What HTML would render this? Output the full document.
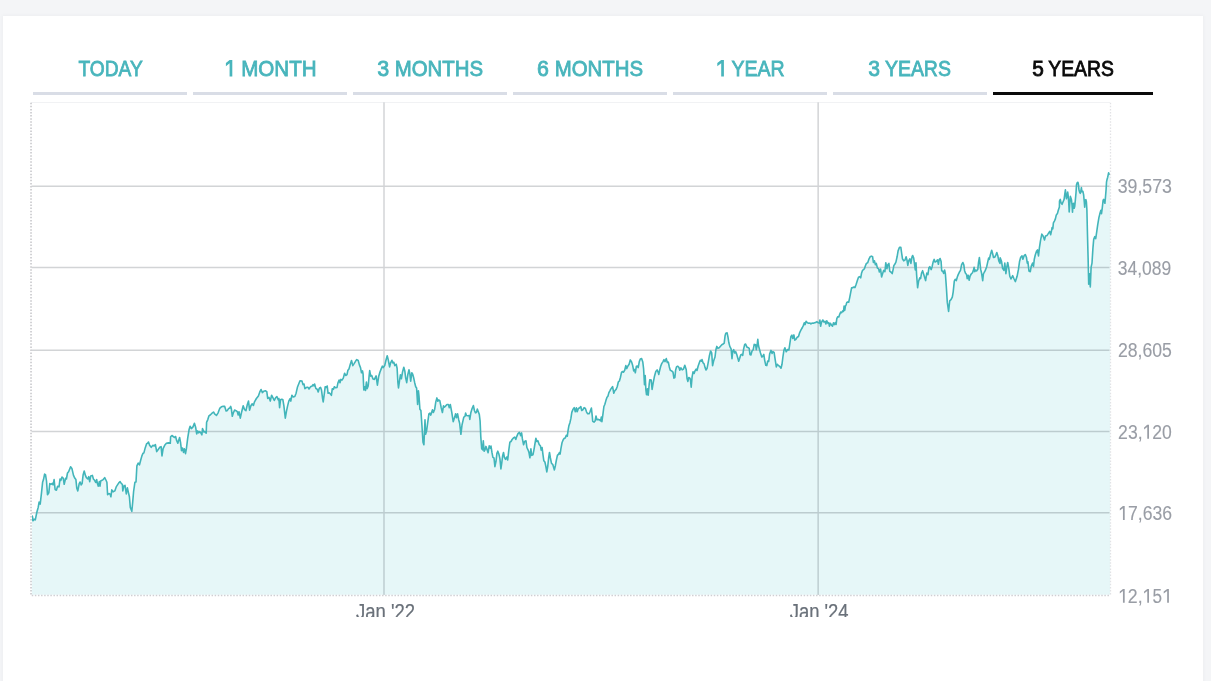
<!DOCTYPE html>
<html><head><meta charset="utf-8"><title>Chart</title>
<style>
html,body{margin:0;padding:0;}
body{width:1211px;height:681px;overflow:hidden;background:#f4f5f7;font-family:"Liberation Sans",sans-serif;position:relative;}
.card{position:absolute;left:3px;top:16px;width:1200px;height:700px;background:#fff;box-shadow:0 0 3px rgba(200,204,212,.25);}
svg{position:absolute;left:0;top:0;will-change:transform;}
svg text{font-family:"Liberation Sans",sans-serif;white-space:pre;}
</style></head><body>
<div class="card"></div>
<svg width="1211" height="681" viewBox="0 0 1211 681">
<defs><clipPath id="xc"><rect x="300" y="596" width="700" height="21"/></clipPath><clipPath id="ac"><rect x="31.9" y="100" width="1078.3" height="494.8"/></clipPath><clipPath id="lc"><rect x="31.9" y="100" width="1078.1" height="500"/></clipPath></defs>
<rect x="33" y="92" width="154" height="3" fill="#d9dde6"/><rect x="193" y="92" width="154" height="3" fill="#d9dde6"/><rect x="353" y="92" width="154" height="3" fill="#d9dde6"/><rect x="513" y="92" width="154" height="3" fill="#d9dde6"/><rect x="673" y="92" width="154" height="3" fill="#d9dde6"/><rect x="833" y="92" width="154" height="3" fill="#d9dde6"/><rect x="993" y="92" width="160" height="3" fill="#0a0a0a"/>
<line x1="31" y1="102.5" x2="1110" y2="102.5" stroke="#f1f2f4" stroke-width="1.2"/>
<path d="M30.9 524.6 L32.3 516.0 L33.2 520.6 L34.2 519.3 L35.3 519.9 L36.9 512.0 L38.2 507.4 L39.1 502.1 L40.2 504.1 L41.5 492.8 L42.6 482.3 L43.5 479.6 L44.6 474.1 L45.5 474.6 L46.5 481.0 L47.5 494.8 L48.8 492.8 L49.8 483.6 L51.0 484.3 L52.3 483.3 L53.1 484.9 L54.1 479.6 L55.1 489.5 L56.4 490.2 L57.6 486.2 L59.0 486.9 L60.0 479.0 L60.9 480.3 L62.0 477.0 L63.3 478.3 L64.2 484.3 L65.6 478.3 L66.4 479.0 L67.5 473.0 L68.6 471.7 L70.6 466.8 L71.9 468.4 L73.5 475.4 L74.9 478.3 L75.9 479.6 L76.8 488.2 L77.8 490.9 L79.2 483.6 L80.1 482.0 L81.2 484.9 L82.1 483.6 L83.1 475.0 L84.2 471.0 L85.5 475.7 L86.4 477.7 L87.8 479.0 L88.7 476.7 L89.7 481.6 L90.7 475.9 L92.4 475.4 L93.4 479.0 L94.6 480.3 L95.7 482.5 L96.7 479.6 L97.4 483.6 L98.3 486.2 L99.3 481.6 L100.0 486.2 L100.7 481.0 L102.0 480.3 L103.2 479.6 L104.7 477.7 L105.9 480.0 L106.9 482.3 L107.6 494.8 L108.9 493.5 L110.2 494.2 L110.9 496.8 L111.8 489.9 L113.1 491.8 L114.8 490.9 L116.2 486.9 L117.5 484.9 L118.8 482.9 L120.1 481.6 L121.4 483.6 L122.4 484.3 L122.8 490.9 L123.8 486.2 L125.0 485.3 L126.3 493.9 L127.4 487.8 L128.5 492.8 L129.4 496.8 L130.3 507.4 L131.8 511.3 L132.7 502.1 L133.6 491.5 L134.9 482.3 L136.0 482.0 L136.9 465.8 L138.2 463.1 L139.5 464.8 L140.6 460.5 L141.9 455.9 L143.0 453.2 L143.9 452.9 L145.2 447.9 L146.6 443.7 L147.6 443.3 L148.5 442.0 L149.6 445.3 L151.2 447.3 L152.9 445.3 L154.2 445.9 L155.4 444.6 L156.7 451.6 L158.4 449.2 L159.8 447.3 L161.1 446.6 L162.0 455.9 L163.1 448.6 L164.7 445.3 L166.4 443.3 L168.4 442.9 L170.3 443.3 L170.6 436.8 L171.9 435.5 L173.2 436.5 L174.3 437.5 L175.6 436.5 L176.5 440.1 L177.8 443.2 L179.6 437.5 L180.5 442.1 L181.5 450.7 L182.5 448.0 L183.5 452.4 L184.4 448.7 L185.5 453.7 L186.4 448.7 L187.7 438.1 L189.1 429.5 L190.1 426.2 L191.4 428.6 L193.0 426.9 L194.4 423.3 L195.7 427.6 L196.7 433.9 L197.7 430.9 L198.7 432.8 L199.6 431.5 L200.7 432.6 L201.9 434.8 L202.5 428.6 L203.9 431.9 L204.9 431.5 L206.2 433.2 L206.6 422.3 L207.8 419.6 L208.9 415.9 L210.2 415.0 L211.5 413.7 L213.5 412.0 L214.8 414.1 L216.5 415.4 L218.1 412.8 L219.7 408.4 L221.4 406.8 L223.2 406.2 L224.7 406.4 L226.1 411.0 L227.4 410.4 L228.7 408.4 L229.8 408.0 L230.7 406.4 L231.3 408.4 L232.3 416.3 L233.3 413.0 L234.6 410.1 L236.0 410.7 L237.3 411.7 L238.2 415.0 L239.0 411.7 L240.3 418.1 L241.7 411.7 L243.2 405.8 L244.6 409.7 L245.9 410.7 L247.2 405.1 L248.5 401.1 L249.6 410.1 L250.9 405.8 L252.2 403.8 L253.4 405.4 L254.5 401.8 L256.4 398.5 L258.4 395.9 L259.8 391.9 L261.1 389.5 L262.4 392.6 L263.7 391.2 L265.4 390.8 L266.8 391.6 L267.7 398.5 L269.0 397.4 L270.3 401.1 L271.6 395.2 L273.0 397.8 L274.3 400.5 L275.6 397.8 L276.9 396.5 L278.2 399.8 L278.9 398.5 L279.6 407.7 L280.5 399.8 L281.8 399.2 L282.9 399.8 L283.9 405.8 L285.3 418.1 L286.4 411.7 L287.5 406.4 L288.8 401.1 L290.1 398.5 L290.8 401.1 L291.9 395.2 L293.2 396.9 L294.8 396.5 L296.1 393.2 L297.4 387.3 L298.7 384.0 L300.0 380.7 L302.0 381.1 L303.0 384.6 L304.0 384.0 L304.9 388.6 L306.7 387.3 L308.0 387.3 L309.0 389.0 L310.6 386.6 L311.9 386.3 L313.0 384.6 L313.9 385.9 L314.6 384.0 L315.9 388.6 L317.2 389.2 L318.2 391.9 L319.2 388.6 L319.5 388.0 L320.6 387.4 L321.5 390.0 L322.6 398.6 L323.2 401.9 L324.2 394.6 L325.2 386.7 L326.1 387.4 L327.2 386.0 L328.1 393.3 L329.2 392.7 L330.4 394.0 L331.4 395.3 L332.3 388.7 L333.4 389.4 L334.3 386.7 L335.7 387.8 L337.0 387.4 L338.0 382.7 L339.1 380.1 L340.0 382.7 L340.9 379.4 L342.0 380.1 L343.3 378.1 L344.6 373.2 L345.7 375.5 L347.0 374.6 L347.9 370.2 L349.0 368.9 L350.3 364.2 L351.5 360.5 L352.8 365.6 L354.1 363.6 L355.5 361.3 L356.8 359.6 L358.2 360.5 L359.4 364.9 L360.5 367.6 L361.5 372.8 L362.5 370.9 L363.1 374.2 L363.8 390.0 L364.7 386.7 L365.5 390.4 L366.4 382.1 L367.1 388.7 L368.2 386.0 L369.1 376.1 L369.7 370.6 L370.7 376.1 L371.7 375.5 L373.0 379.0 L374.4 379.4 L376.1 375.9 L376.7 380.1 L377.4 385.1 L378.6 376.8 L379.9 372.2 L381.2 368.9 L382.3 366.2 L383.2 367.6 L384.7 365.6 L385.9 360.5 L387.2 355.7 L388.2 359.6 L389.6 366.9 L390.6 362.9 L391.9 360.3 L392.9 362.9 L393.8 362.3 L394.8 365.6 L396.2 364.2 L397.1 368.2 L397.9 382.7 L398.5 388.0 L399.5 380.8 L400.4 374.8 L401.4 378.8 L402.5 372.2 L403.8 367.2 L404.8 370.9 L405.7 378.1 L406.7 382.7 L407.8 374.8 L409.0 369.8 L409.8 373.5 L410.7 381.2 L411.8 372.8 L412.7 374.2 L413.6 377.5 L414.7 382.7 L415.7 386.7 L416.6 388.0 L417.6 404.5 L418.4 390.7 L419.0 396.0 L419.9 409.2 L420.9 410.5 L421.9 425.0 L423.0 442.2 L423.9 444.8 L424.6 429.0 L425.0 419.7 L425.6 434.3 L426.6 431.0 L427.9 421.1 L428.9 413.8 L429.9 413.1 L430.8 415.1 L432.5 409.8 L433.4 412.5 L434.7 409.2 L435.8 401.9 L436.9 397.9 L437.8 401.2 L438.7 399.9 L439.8 400.6 L441.1 407.2 L442.4 412.5 L443.5 405.9 L444.4 407.2 L445.7 405.9 L447.0 404.5 L448.4 404.5 L449.3 407.8 L450.3 404.5 L451.7 411.8 L453.2 421.7 L454.7 417.1 L455.6 413.8 L456.5 417.8 L457.6 413.8 L458.7 419.7 L459.6 423.0 L460.9 434.3 L462.0 425.0 L462.9 421.1 L463.8 417.1 L465.0 416.4 L465.6 413.1 L466.5 415.5 L467.8 415.7 L469.2 415.5 L469.8 419.4 L470.9 412.4 L472.1 408.5 L473.4 405.6 L474.4 410.5 L475.5 412.8 L476.4 412.4 L477.3 409.1 L478.4 412.0 L479.3 414.4 L480.1 421.0 L480.8 436.9 L481.7 448.8 L482.6 449.8 L483.3 440.8 L484.1 451.2 L485.0 449.8 L485.9 446.4 L487.0 449.4 L488.1 452.7 L489.2 445.9 L490.3 448.1 L491.0 446.1 L492.0 452.7 L492.9 457.4 L494.0 458.0 L494.9 466.6 L496.0 461.3 L496.9 453.4 L497.8 451.2 L498.9 454.1 L499.9 458.7 L500.9 468.9 L501.8 462.6 L502.6 456.0 L503.5 452.5 L504.4 457.4 L505.5 459.3 L506.8 457.0 L507.7 460.0 L508.8 450.1 L509.9 442.2 L511.0 441.5 L512.1 439.5 L513.4 437.9 L514.7 437.1 L515.8 439.5 L516.7 436.6 L518.0 433.6 L519.4 432.3 L520.7 435.6 L521.6 432.9 L522.4 438.9 L523.6 444.8 L524.6 441.5 L526.0 440.8 L526.9 447.5 L528.0 449.8 L528.9 452.1 L529.9 457.8 L530.9 448.8 L531.7 455.4 L533.0 454.7 L533.9 450.1 L535.0 443.5 L535.9 438.2 L536.9 441.5 L537.9 440.8 L539.2 444.5 L540.5 446.1 L541.2 450.1 L542.1 447.5 L542.9 454.1 L543.8 460.7 L544.9 462.0 L545.8 466.0 L546.8 471.9 L547.8 466.0 L548.7 457.4 L549.5 452.5 L550.4 458.0 L551.5 463.3 L552.8 464.6 L554.4 469.9 L555.3 466.0 L556.4 460.0 L557.4 455.4 L558.6 454.1 L559.4 452.5 L560.1 454.1 L561.0 448.1 L562.0 442.8 L563.2 439.8 L564.3 438.2 L565.3 437.9 L566.3 435.3 L567.3 436.2 L568.0 430.9 L568.9 425.7 L570.0 422.4 L570.9 418.4 L571.8 412.4 L573.1 409.1 L574.2 407.6 L575.3 411.8 L576.4 407.8 L577.2 411.8 L578.4 408.5 L579.7 407.8 L580.8 406.5 L581.7 410.5 L582.8 409.8 L584.1 407.6 L585.4 408.5 L586.5 411.8 L587.7 413.8 L589.0 413.8 L590.0 411.8 L591.4 408.1 L592.3 416.4 L592.7 421.3 L594.0 422.1 L595.1 421.0 L596.0 416.0 L596.9 419.7 L598.0 419.4 L599.3 419.7 L600.6 420.8 L601.3 417.1 L601.9 421.7 L602.9 414.4 L603.9 406.5 L604.8 404.5 L605.9 400.6 L607.0 397.2 L607.9 396.2 L608.9 392.6 L610.0 390.6 L610.6 389.4 L611.8 387.6 L612.6 386.7 L613.8 393.3 L614.8 390.7 L616.1 389.4 L617.2 386.7 L618.4 381.8 L619.4 381.0 L620.4 377.5 L621.4 372.8 L622.3 371.5 L623.4 372.2 L624.7 370.2 L625.8 365.6 L626.7 368.6 L627.8 366.2 L629.1 364.3 L630.3 359.9 L631.6 362.0 L632.7 365.6 L633.7 370.9 L634.6 369.5 L635.3 372.8 L636.4 366.2 L637.3 366.0 L638.2 367.6 L639.3 361.6 L640.3 359.0 L641.6 358.6 L642.8 362.0 L643.6 368.9 L644.5 384.7 L645.2 375.5 L645.9 390.0 L646.5 394.6 L647.5 388.7 L648.2 395.3 L649.2 384.1 L649.8 379.7 L651.2 380.1 L652.1 389.4 L653.1 383.4 L654.5 376.2 L655.8 371.5 L657.1 369.9 L658.0 371.8 L658.8 374.4 L659.7 370.2 L660.7 366.2 L661.7 363.6 L663.0 361.6 L664.0 359.6 L665.0 361.6 L666.3 358.6 L667.3 362.5 L668.3 362.0 L669.3 366.9 L670.3 370.2 L671.6 370.9 L673.0 372.2 L673.9 378.1 L674.9 377.5 L675.6 370.2 L676.5 366.9 L677.6 366.2 L678.9 367.3 L679.8 370.2 L680.9 367.8 L682.2 369.9 L683.5 369.1 L684.8 365.2 L686.2 369.5 L687.1 378.8 L687.9 381.4 L688.8 377.5 L689.9 378.1 L690.5 380.1 L691.2 387.1 L692.1 376.8 L693.0 371.8 L694.1 373.5 L695.0 370.9 L696.1 369.1 L697.0 370.5 L698.1 366.2 L699.4 362.5 L700.3 360.3 L701.4 361.2 L702.0 359.6 L703.1 362.9 L704.0 363.6 L705.1 367.6 L706.0 369.9 L707.0 368.6 L708.0 363.6 L709.3 356.3 L710.6 351.0 L711.7 353.0 L712.6 365.6 L713.6 361.0 L715.0 357.0 L715.9 349.7 L716.8 346.4 L717.9 348.4 L719.2 347.7 L720.5 346.2 L721.8 344.8 L723.2 344.0 L724.2 343.1 L725.1 335.6 L725.8 333.2 L727.1 332.9 L728.0 337.2 L728.8 342.5 L729.8 346.4 L731.1 348.8 L732.0 358.6 L732.8 351.0 L733.7 349.7 L734.7 353.0 L735.7 351.7 L736.8 354.6 L737.7 357.7 L738.7 361.2 L739.7 358.3 L740.7 355.0 L741.7 354.4 L742.7 355.4 L743.6 349.1 L744.7 344.4 L745.6 344.0 L746.9 347.1 L748.3 347.7 L749.2 348.4 L750.0 354.6 L750.9 355.0 L752.0 351.0 L753.2 349.7 L754.2 344.4 L755.0 345.1 L755.6 344.7 L756.3 349.7 L756.9 346.8 L757.8 339.4 L758.5 345.8 L759.6 349.7 L760.5 353.0 L761.8 357.0 L762.7 356.3 L763.8 354.4 L764.7 360.3 L765.8 365.3 L766.8 365.6 L767.7 361.0 L768.7 361.4 L769.7 353.7 L771.0 350.4 L772.1 353.4 L773.0 351.7 L774.1 352.4 L775.3 360.3 L776.3 366.9 L777.3 364.3 L778.3 365.3 L779.6 366.3 L781.0 368.2 L782.0 364.3 L782.9 357.0 L783.9 350.4 L784.9 347.8 L786.2 351.7 L787.6 349.5 L788.9 350.0 L789.8 343.8 L790.9 336.5 L791.9 335.2 L792.8 338.5 L793.9 334.9 L794.8 340.2 L795.9 339.4 L797.2 337.2 L798.5 336.5 L799.7 332.6 L801.0 329.9 L802.4 327.5 L803.4 325.3 L804.3 322.7 L805.1 324.6 L806.1 321.3 L807.4 322.7 L808.7 323.3 L810.0 323.1 L810.9 324.0 L812.0 323.1 L813.3 323.3 L814.6 322.7 L816.0 322.4 L817.0 321.7 L818.0 322.7 L819.3 323.1 L819.9 320.0 L820.6 326.2 L821.5 322.3 L822.8 320.0 L823.9 322.0 L825.0 321.3 L825.9 324.0 L826.8 320.7 L827.9 323.3 L828.8 322.7 L829.4 326.2 L830.5 323.3 L831.4 324.9 L832.5 326.2 L833.5 322.7 L834.5 324.6 L835.4 322.7 L836.1 324.4 L836.8 318.7 L837.8 316.7 L838.8 317.0 L839.8 314.1 L840.7 312.1 L841.7 312.7 L842.7 310.8 L843.5 311.4 L844.1 306.1 L844.8 310.1 L845.4 306.1 L846.1 304.8 L846.8 302.4 L847.7 301.9 L848.7 302.2 L849.7 297.6 L850.7 292.3 L851.6 287.9 L853.0 287.6 L853.9 287.0 L854.9 287.6 L855.9 285.0 L856.5 283.2 L857.6 279.7 L858.5 277.3 L859.8 276.6 L860.7 277.9 L861.5 273.3 L862.5 270.4 L863.5 269.6 L864.4 268.7 L865.4 265.7 L866.4 263.4 L867.7 262.7 L868.8 259.4 L870.1 256.8 L871.4 256.1 L872.6 256.8 L873.4 262.5 L874.4 260.8 L875.4 264.7 L876.3 263.4 L877.4 268.0 L878.6 268.7 L879.4 272.0 L880.6 269.1 L881.6 277.0 L882.5 274.0 L883.6 270.4 L884.9 271.7 L885.8 262.7 L886.9 268.7 L887.8 264.7 L888.9 263.4 L889.8 271.3 L890.9 272.0 L892.2 273.6 L893.1 269.6 L893.9 265.4 L894.8 264.3 L895.9 262.1 L897.1 256.8 L898.1 250.9 L899.5 247.2 L900.8 247.2 L901.7 253.5 L902.5 258.8 L903.7 260.8 L905.0 260.1 L906.1 256.8 L907.0 260.1 L907.8 265.4 L908.7 260.8 L909.8 258.8 L910.9 263.4 L912.0 256.8 L912.7 255.5 L913.7 258.1 L914.6 264.7 L915.3 270.0 L916.0 262.7 L916.6 274.6 L917.6 287.8 L918.6 281.2 L919.7 277.9 L920.6 278.6 L921.5 273.3 L922.6 270.7 L923.6 274.0 L924.6 277.3 L925.6 280.6 L926.8 273.1 L927.9 274.6 L928.9 267.8 L929.8 266.7 L931.2 269.6 L932.1 266.7 L933.1 262.1 L934.2 259.4 L935.1 262.1 L936.4 261.4 L937.5 259.8 L938.4 264.3 L939.1 259.8 L940.1 258.5 L941.1 261.4 L941.7 270.7 L942.8 271.3 L943.7 273.3 L944.6 270.0 L945.4 274.0 L946.4 287.8 L947.3 302.4 L948.6 311.4 L949.7 300.8 L951.0 299.7 L952.3 297.1 L953.2 291.8 L954.3 281.2 L955.2 279.3 L956.3 280.6 L957.3 277.0 L958.2 274.6 L959.3 272.3 L960.5 270.4 L961.6 264.7 L962.9 262.5 L963.8 264.7 L964.6 270.7 L965.5 273.3 L966.6 274.6 L967.2 278.6 L968.2 275.3 L969.1 280.2 L970.1 276.0 L971.2 274.0 L972.5 272.7 L973.4 270.4 L974.1 267.4 L974.8 271.7 L975.8 270.0 L976.7 270.9 L977.8 269.4 L978.5 262.7 L979.4 257.5 L980.0 263.4 L980.7 269.4 L981.6 273.3 L982.7 280.6 L983.4 274.0 L984.4 272.0 L985.3 270.4 L986.7 266.7 L987.7 262.1 L988.6 258.1 L989.3 259.4 L990.4 254.8 L991.7 250.2 L992.6 253.5 L993.5 257.5 L994.8 257.2 L995.9 254.8 L996.8 252.6 L997.9 256.1 L998.8 260.8 L1000.0 263.4 L1000.2 257.8 L1001.5 261.2 L1002.6 268.4 L1003.9 270.4 L1004.8 263.1 L1005.9 273.7 L1006.8 267.1 L1007.7 262.5 L1008.8 268.4 L1009.8 276.3 L1011.0 279.0 L1012.7 275.7 L1014.1 279.0 L1015.4 281.6 L1017.1 276.3 L1018.4 269.7 L1019.6 261.2 L1020.7 257.2 L1022.0 255.9 L1022.9 259.2 L1024.0 255.9 L1025.3 254.5 L1026.4 257.2 L1027.3 263.1 L1027.9 261.8 L1029.0 271.1 L1030.3 271.7 L1031.2 266.4 L1032.6 263.1 L1033.5 266.4 L1034.3 259.2 L1035.2 255.2 L1036.5 251.2 L1037.5 249.9 L1038.5 255.9 L1039.4 247.9 L1040.5 240.7 L1041.8 234.1 L1043.1 236.0 L1044.5 240.0 L1045.5 236.0 L1047.1 235.4 L1048.4 233.4 L1049.7 231.4 L1050.7 234.7 L1051.5 230.8 L1052.1 227.5 L1052.8 228.8 L1053.4 222.8 L1054.4 221.1 L1055.4 218.9 L1056.3 214.9 L1057.4 213.6 L1058.3 210.3 L1059.4 207.0 L1059.5 201.0 L1060.3 199.4 L1061.0 202.7 L1062.1 204.3 L1063.1 201.7 L1064.1 199.4 L1064.8 194.1 L1065.4 189.8 L1065.9 194.1 L1066.4 198.7 L1067.1 196.0 L1067.7 192.1 L1068.3 196.7 L1068.7 202.0 L1069.2 212.0 L1069.7 204.6 L1070.4 196.4 L1071.4 199.4 L1072.0 204.6 L1072.5 212.2 L1073.0 204.0 L1073.7 203.3 L1074.2 208.3 L1074.7 206.6 L1075.3 200.7 L1076.0 192.7 L1076.5 184.8 L1077.2 182.8 L1078.0 182.3 L1078.5 184.8 L1079.0 190.1 L1079.6 192.1 L1080.3 193.4 L1081.0 190.1 L1081.4 187.5 L1081.9 191.8 L1082.9 191.4 L1083.6 194.7 L1084.3 202.0 L1084.7 207.3 L1085.1 200.0 L1085.9 199.7 L1086.4 202.0 L1086.9 210.0 L1087.4 231.4 L1088.1 257.8 L1088.7 284.3 L1089.4 273.7 L1090.3 286.9 L1091.1 267.1 L1092.0 263.1 L1092.9 248.6 L1093.7 239.4 L1094.7 236.7 L1095.7 238.7 L1096.6 232.7 L1097.7 224.8 L1098.9 217.6 L1099.9 213.6 L1100.9 210.3 L1101.5 213.6 L1102.3 207.6 L1103.1 200.3 L1103.7 199.4 L1104.4 201.7 L1104.9 203.3 L1105.4 198.0 L1106.1 189.4 L1106.5 182.2 L1107.1 179.2 L1107.7 177.2 L1108.6 172.8 L1109.4 174.9 L1111 174.9 L1111 595 L30.9 595 Z" fill="#e6f7f8" stroke="none" clip-path="url(#ac)"/>
<g opacity=".175" stroke="rgb(0,12,25)"><line x1="31.5" y1="186.2" x2="1109.5" y2="186.2" stroke-width="1.6"/><line x1="31.5" y1="267.5" x2="1109.5" y2="267.5" stroke-width="1.4"/><line x1="31.5" y1="350.2" x2="1109.5" y2="350.2" stroke-width="1.6"/><line x1="31.5" y1="431.5" x2="1109.5" y2="431.5" stroke-width="1.4"/><line x1="31.5" y1="512.8" x2="1109.5" y2="512.8" stroke-width="1.6"/><line x1="384.0" y1="102.5" x2="384.0" y2="595" stroke-width="1.48"/><line x1="818.15" y1="102.5" x2="818.15" y2="595" stroke-width="1.48"/></g>

<path d="M30.9 524.6 L32.3 516.0 L33.2 520.6 L34.2 519.3 L35.3 519.9 L36.9 512.0 L38.2 507.4 L39.1 502.1 L40.2 504.1 L41.5 492.8 L42.6 482.3 L43.5 479.6 L44.6 474.1 L45.5 474.6 L46.5 481.0 L47.5 494.8 L48.8 492.8 L49.8 483.6 L51.0 484.3 L52.3 483.3 L53.1 484.9 L54.1 479.6 L55.1 489.5 L56.4 490.2 L57.6 486.2 L59.0 486.9 L60.0 479.0 L60.9 480.3 L62.0 477.0 L63.3 478.3 L64.2 484.3 L65.6 478.3 L66.4 479.0 L67.5 473.0 L68.6 471.7 L70.6 466.8 L71.9 468.4 L73.5 475.4 L74.9 478.3 L75.9 479.6 L76.8 488.2 L77.8 490.9 L79.2 483.6 L80.1 482.0 L81.2 484.9 L82.1 483.6 L83.1 475.0 L84.2 471.0 L85.5 475.7 L86.4 477.7 L87.8 479.0 L88.7 476.7 L89.7 481.6 L90.7 475.9 L92.4 475.4 L93.4 479.0 L94.6 480.3 L95.7 482.5 L96.7 479.6 L97.4 483.6 L98.3 486.2 L99.3 481.6 L100.0 486.2 L100.7 481.0 L102.0 480.3 L103.2 479.6 L104.7 477.7 L105.9 480.0 L106.9 482.3 L107.6 494.8 L108.9 493.5 L110.2 494.2 L110.9 496.8 L111.8 489.9 L113.1 491.8 L114.8 490.9 L116.2 486.9 L117.5 484.9 L118.8 482.9 L120.1 481.6 L121.4 483.6 L122.4 484.3 L122.8 490.9 L123.8 486.2 L125.0 485.3 L126.3 493.9 L127.4 487.8 L128.5 492.8 L129.4 496.8 L130.3 507.4 L131.8 511.3 L132.7 502.1 L133.6 491.5 L134.9 482.3 L136.0 482.0 L136.9 465.8 L138.2 463.1 L139.5 464.8 L140.6 460.5 L141.9 455.9 L143.0 453.2 L143.9 452.9 L145.2 447.9 L146.6 443.7 L147.6 443.3 L148.5 442.0 L149.6 445.3 L151.2 447.3 L152.9 445.3 L154.2 445.9 L155.4 444.6 L156.7 451.6 L158.4 449.2 L159.8 447.3 L161.1 446.6 L162.0 455.9 L163.1 448.6 L164.7 445.3 L166.4 443.3 L168.4 442.9 L170.3 443.3 L170.6 436.8 L171.9 435.5 L173.2 436.5 L174.3 437.5 L175.6 436.5 L176.5 440.1 L177.8 443.2 L179.6 437.5 L180.5 442.1 L181.5 450.7 L182.5 448.0 L183.5 452.4 L184.4 448.7 L185.5 453.7 L186.4 448.7 L187.7 438.1 L189.1 429.5 L190.1 426.2 L191.4 428.6 L193.0 426.9 L194.4 423.3 L195.7 427.6 L196.7 433.9 L197.7 430.9 L198.7 432.8 L199.6 431.5 L200.7 432.6 L201.9 434.8 L202.5 428.6 L203.9 431.9 L204.9 431.5 L206.2 433.2 L206.6 422.3 L207.8 419.6 L208.9 415.9 L210.2 415.0 L211.5 413.7 L213.5 412.0 L214.8 414.1 L216.5 415.4 L218.1 412.8 L219.7 408.4 L221.4 406.8 L223.2 406.2 L224.7 406.4 L226.1 411.0 L227.4 410.4 L228.7 408.4 L229.8 408.0 L230.7 406.4 L231.3 408.4 L232.3 416.3 L233.3 413.0 L234.6 410.1 L236.0 410.7 L237.3 411.7 L238.2 415.0 L239.0 411.7 L240.3 418.1 L241.7 411.7 L243.2 405.8 L244.6 409.7 L245.9 410.7 L247.2 405.1 L248.5 401.1 L249.6 410.1 L250.9 405.8 L252.2 403.8 L253.4 405.4 L254.5 401.8 L256.4 398.5 L258.4 395.9 L259.8 391.9 L261.1 389.5 L262.4 392.6 L263.7 391.2 L265.4 390.8 L266.8 391.6 L267.7 398.5 L269.0 397.4 L270.3 401.1 L271.6 395.2 L273.0 397.8 L274.3 400.5 L275.6 397.8 L276.9 396.5 L278.2 399.8 L278.9 398.5 L279.6 407.7 L280.5 399.8 L281.8 399.2 L282.9 399.8 L283.9 405.8 L285.3 418.1 L286.4 411.7 L287.5 406.4 L288.8 401.1 L290.1 398.5 L290.8 401.1 L291.9 395.2 L293.2 396.9 L294.8 396.5 L296.1 393.2 L297.4 387.3 L298.7 384.0 L300.0 380.7 L302.0 381.1 L303.0 384.6 L304.0 384.0 L304.9 388.6 L306.7 387.3 L308.0 387.3 L309.0 389.0 L310.6 386.6 L311.9 386.3 L313.0 384.6 L313.9 385.9 L314.6 384.0 L315.9 388.6 L317.2 389.2 L318.2 391.9 L319.2 388.6 L319.5 388.0 L320.6 387.4 L321.5 390.0 L322.6 398.6 L323.2 401.9 L324.2 394.6 L325.2 386.7 L326.1 387.4 L327.2 386.0 L328.1 393.3 L329.2 392.7 L330.4 394.0 L331.4 395.3 L332.3 388.7 L333.4 389.4 L334.3 386.7 L335.7 387.8 L337.0 387.4 L338.0 382.7 L339.1 380.1 L340.0 382.7 L340.9 379.4 L342.0 380.1 L343.3 378.1 L344.6 373.2 L345.7 375.5 L347.0 374.6 L347.9 370.2 L349.0 368.9 L350.3 364.2 L351.5 360.5 L352.8 365.6 L354.1 363.6 L355.5 361.3 L356.8 359.6 L358.2 360.5 L359.4 364.9 L360.5 367.6 L361.5 372.8 L362.5 370.9 L363.1 374.2 L363.8 390.0 L364.7 386.7 L365.5 390.4 L366.4 382.1 L367.1 388.7 L368.2 386.0 L369.1 376.1 L369.7 370.6 L370.7 376.1 L371.7 375.5 L373.0 379.0 L374.4 379.4 L376.1 375.9 L376.7 380.1 L377.4 385.1 L378.6 376.8 L379.9 372.2 L381.2 368.9 L382.3 366.2 L383.2 367.6 L384.7 365.6 L385.9 360.5 L387.2 355.7 L388.2 359.6 L389.6 366.9 L390.6 362.9 L391.9 360.3 L392.9 362.9 L393.8 362.3 L394.8 365.6 L396.2 364.2 L397.1 368.2 L397.9 382.7 L398.5 388.0 L399.5 380.8 L400.4 374.8 L401.4 378.8 L402.5 372.2 L403.8 367.2 L404.8 370.9 L405.7 378.1 L406.7 382.7 L407.8 374.8 L409.0 369.8 L409.8 373.5 L410.7 381.2 L411.8 372.8 L412.7 374.2 L413.6 377.5 L414.7 382.7 L415.7 386.7 L416.6 388.0 L417.6 404.5 L418.4 390.7 L419.0 396.0 L419.9 409.2 L420.9 410.5 L421.9 425.0 L423.0 442.2 L423.9 444.8 L424.6 429.0 L425.0 419.7 L425.6 434.3 L426.6 431.0 L427.9 421.1 L428.9 413.8 L429.9 413.1 L430.8 415.1 L432.5 409.8 L433.4 412.5 L434.7 409.2 L435.8 401.9 L436.9 397.9 L437.8 401.2 L438.7 399.9 L439.8 400.6 L441.1 407.2 L442.4 412.5 L443.5 405.9 L444.4 407.2 L445.7 405.9 L447.0 404.5 L448.4 404.5 L449.3 407.8 L450.3 404.5 L451.7 411.8 L453.2 421.7 L454.7 417.1 L455.6 413.8 L456.5 417.8 L457.6 413.8 L458.7 419.7 L459.6 423.0 L460.9 434.3 L462.0 425.0 L462.9 421.1 L463.8 417.1 L465.0 416.4 L465.6 413.1 L466.5 415.5 L467.8 415.7 L469.2 415.5 L469.8 419.4 L470.9 412.4 L472.1 408.5 L473.4 405.6 L474.4 410.5 L475.5 412.8 L476.4 412.4 L477.3 409.1 L478.4 412.0 L479.3 414.4 L480.1 421.0 L480.8 436.9 L481.7 448.8 L482.6 449.8 L483.3 440.8 L484.1 451.2 L485.0 449.8 L485.9 446.4 L487.0 449.4 L488.1 452.7 L489.2 445.9 L490.3 448.1 L491.0 446.1 L492.0 452.7 L492.9 457.4 L494.0 458.0 L494.9 466.6 L496.0 461.3 L496.9 453.4 L497.8 451.2 L498.9 454.1 L499.9 458.7 L500.9 468.9 L501.8 462.6 L502.6 456.0 L503.5 452.5 L504.4 457.4 L505.5 459.3 L506.8 457.0 L507.7 460.0 L508.8 450.1 L509.9 442.2 L511.0 441.5 L512.1 439.5 L513.4 437.9 L514.7 437.1 L515.8 439.5 L516.7 436.6 L518.0 433.6 L519.4 432.3 L520.7 435.6 L521.6 432.9 L522.4 438.9 L523.6 444.8 L524.6 441.5 L526.0 440.8 L526.9 447.5 L528.0 449.8 L528.9 452.1 L529.9 457.8 L530.9 448.8 L531.7 455.4 L533.0 454.7 L533.9 450.1 L535.0 443.5 L535.9 438.2 L536.9 441.5 L537.9 440.8 L539.2 444.5 L540.5 446.1 L541.2 450.1 L542.1 447.5 L542.9 454.1 L543.8 460.7 L544.9 462.0 L545.8 466.0 L546.8 471.9 L547.8 466.0 L548.7 457.4 L549.5 452.5 L550.4 458.0 L551.5 463.3 L552.8 464.6 L554.4 469.9 L555.3 466.0 L556.4 460.0 L557.4 455.4 L558.6 454.1 L559.4 452.5 L560.1 454.1 L561.0 448.1 L562.0 442.8 L563.2 439.8 L564.3 438.2 L565.3 437.9 L566.3 435.3 L567.3 436.2 L568.0 430.9 L568.9 425.7 L570.0 422.4 L570.9 418.4 L571.8 412.4 L573.1 409.1 L574.2 407.6 L575.3 411.8 L576.4 407.8 L577.2 411.8 L578.4 408.5 L579.7 407.8 L580.8 406.5 L581.7 410.5 L582.8 409.8 L584.1 407.6 L585.4 408.5 L586.5 411.8 L587.7 413.8 L589.0 413.8 L590.0 411.8 L591.4 408.1 L592.3 416.4 L592.7 421.3 L594.0 422.1 L595.1 421.0 L596.0 416.0 L596.9 419.7 L598.0 419.4 L599.3 419.7 L600.6 420.8 L601.3 417.1 L601.9 421.7 L602.9 414.4 L603.9 406.5 L604.8 404.5 L605.9 400.6 L607.0 397.2 L607.9 396.2 L608.9 392.6 L610.0 390.6 L610.6 389.4 L611.8 387.6 L612.6 386.7 L613.8 393.3 L614.8 390.7 L616.1 389.4 L617.2 386.7 L618.4 381.8 L619.4 381.0 L620.4 377.5 L621.4 372.8 L622.3 371.5 L623.4 372.2 L624.7 370.2 L625.8 365.6 L626.7 368.6 L627.8 366.2 L629.1 364.3 L630.3 359.9 L631.6 362.0 L632.7 365.6 L633.7 370.9 L634.6 369.5 L635.3 372.8 L636.4 366.2 L637.3 366.0 L638.2 367.6 L639.3 361.6 L640.3 359.0 L641.6 358.6 L642.8 362.0 L643.6 368.9 L644.5 384.7 L645.2 375.5 L645.9 390.0 L646.5 394.6 L647.5 388.7 L648.2 395.3 L649.2 384.1 L649.8 379.7 L651.2 380.1 L652.1 389.4 L653.1 383.4 L654.5 376.2 L655.8 371.5 L657.1 369.9 L658.0 371.8 L658.8 374.4 L659.7 370.2 L660.7 366.2 L661.7 363.6 L663.0 361.6 L664.0 359.6 L665.0 361.6 L666.3 358.6 L667.3 362.5 L668.3 362.0 L669.3 366.9 L670.3 370.2 L671.6 370.9 L673.0 372.2 L673.9 378.1 L674.9 377.5 L675.6 370.2 L676.5 366.9 L677.6 366.2 L678.9 367.3 L679.8 370.2 L680.9 367.8 L682.2 369.9 L683.5 369.1 L684.8 365.2 L686.2 369.5 L687.1 378.8 L687.9 381.4 L688.8 377.5 L689.9 378.1 L690.5 380.1 L691.2 387.1 L692.1 376.8 L693.0 371.8 L694.1 373.5 L695.0 370.9 L696.1 369.1 L697.0 370.5 L698.1 366.2 L699.4 362.5 L700.3 360.3 L701.4 361.2 L702.0 359.6 L703.1 362.9 L704.0 363.6 L705.1 367.6 L706.0 369.9 L707.0 368.6 L708.0 363.6 L709.3 356.3 L710.6 351.0 L711.7 353.0 L712.6 365.6 L713.6 361.0 L715.0 357.0 L715.9 349.7 L716.8 346.4 L717.9 348.4 L719.2 347.7 L720.5 346.2 L721.8 344.8 L723.2 344.0 L724.2 343.1 L725.1 335.6 L725.8 333.2 L727.1 332.9 L728.0 337.2 L728.8 342.5 L729.8 346.4 L731.1 348.8 L732.0 358.6 L732.8 351.0 L733.7 349.7 L734.7 353.0 L735.7 351.7 L736.8 354.6 L737.7 357.7 L738.7 361.2 L739.7 358.3 L740.7 355.0 L741.7 354.4 L742.7 355.4 L743.6 349.1 L744.7 344.4 L745.6 344.0 L746.9 347.1 L748.3 347.7 L749.2 348.4 L750.0 354.6 L750.9 355.0 L752.0 351.0 L753.2 349.7 L754.2 344.4 L755.0 345.1 L755.6 344.7 L756.3 349.7 L756.9 346.8 L757.8 339.4 L758.5 345.8 L759.6 349.7 L760.5 353.0 L761.8 357.0 L762.7 356.3 L763.8 354.4 L764.7 360.3 L765.8 365.3 L766.8 365.6 L767.7 361.0 L768.7 361.4 L769.7 353.7 L771.0 350.4 L772.1 353.4 L773.0 351.7 L774.1 352.4 L775.3 360.3 L776.3 366.9 L777.3 364.3 L778.3 365.3 L779.6 366.3 L781.0 368.2 L782.0 364.3 L782.9 357.0 L783.9 350.4 L784.9 347.8 L786.2 351.7 L787.6 349.5 L788.9 350.0 L789.8 343.8 L790.9 336.5 L791.9 335.2 L792.8 338.5 L793.9 334.9 L794.8 340.2 L795.9 339.4 L797.2 337.2 L798.5 336.5 L799.7 332.6 L801.0 329.9 L802.4 327.5 L803.4 325.3 L804.3 322.7 L805.1 324.6 L806.1 321.3 L807.4 322.7 L808.7 323.3 L810.0 323.1 L810.9 324.0 L812.0 323.1 L813.3 323.3 L814.6 322.7 L816.0 322.4 L817.0 321.7 L818.0 322.7 L819.3 323.1 L819.9 320.0 L820.6 326.2 L821.5 322.3 L822.8 320.0 L823.9 322.0 L825.0 321.3 L825.9 324.0 L826.8 320.7 L827.9 323.3 L828.8 322.7 L829.4 326.2 L830.5 323.3 L831.4 324.9 L832.5 326.2 L833.5 322.7 L834.5 324.6 L835.4 322.7 L836.1 324.4 L836.8 318.7 L837.8 316.7 L838.8 317.0 L839.8 314.1 L840.7 312.1 L841.7 312.7 L842.7 310.8 L843.5 311.4 L844.1 306.1 L844.8 310.1 L845.4 306.1 L846.1 304.8 L846.8 302.4 L847.7 301.9 L848.7 302.2 L849.7 297.6 L850.7 292.3 L851.6 287.9 L853.0 287.6 L853.9 287.0 L854.9 287.6 L855.9 285.0 L856.5 283.2 L857.6 279.7 L858.5 277.3 L859.8 276.6 L860.7 277.9 L861.5 273.3 L862.5 270.4 L863.5 269.6 L864.4 268.7 L865.4 265.7 L866.4 263.4 L867.7 262.7 L868.8 259.4 L870.1 256.8 L871.4 256.1 L872.6 256.8 L873.4 262.5 L874.4 260.8 L875.4 264.7 L876.3 263.4 L877.4 268.0 L878.6 268.7 L879.4 272.0 L880.6 269.1 L881.6 277.0 L882.5 274.0 L883.6 270.4 L884.9 271.7 L885.8 262.7 L886.9 268.7 L887.8 264.7 L888.9 263.4 L889.8 271.3 L890.9 272.0 L892.2 273.6 L893.1 269.6 L893.9 265.4 L894.8 264.3 L895.9 262.1 L897.1 256.8 L898.1 250.9 L899.5 247.2 L900.8 247.2 L901.7 253.5 L902.5 258.8 L903.7 260.8 L905.0 260.1 L906.1 256.8 L907.0 260.1 L907.8 265.4 L908.7 260.8 L909.8 258.8 L910.9 263.4 L912.0 256.8 L912.7 255.5 L913.7 258.1 L914.6 264.7 L915.3 270.0 L916.0 262.7 L916.6 274.6 L917.6 287.8 L918.6 281.2 L919.7 277.9 L920.6 278.6 L921.5 273.3 L922.6 270.7 L923.6 274.0 L924.6 277.3 L925.6 280.6 L926.8 273.1 L927.9 274.6 L928.9 267.8 L929.8 266.7 L931.2 269.6 L932.1 266.7 L933.1 262.1 L934.2 259.4 L935.1 262.1 L936.4 261.4 L937.5 259.8 L938.4 264.3 L939.1 259.8 L940.1 258.5 L941.1 261.4 L941.7 270.7 L942.8 271.3 L943.7 273.3 L944.6 270.0 L945.4 274.0 L946.4 287.8 L947.3 302.4 L948.6 311.4 L949.7 300.8 L951.0 299.7 L952.3 297.1 L953.2 291.8 L954.3 281.2 L955.2 279.3 L956.3 280.6 L957.3 277.0 L958.2 274.6 L959.3 272.3 L960.5 270.4 L961.6 264.7 L962.9 262.5 L963.8 264.7 L964.6 270.7 L965.5 273.3 L966.6 274.6 L967.2 278.6 L968.2 275.3 L969.1 280.2 L970.1 276.0 L971.2 274.0 L972.5 272.7 L973.4 270.4 L974.1 267.4 L974.8 271.7 L975.8 270.0 L976.7 270.9 L977.8 269.4 L978.5 262.7 L979.4 257.5 L980.0 263.4 L980.7 269.4 L981.6 273.3 L982.7 280.6 L983.4 274.0 L984.4 272.0 L985.3 270.4 L986.7 266.7 L987.7 262.1 L988.6 258.1 L989.3 259.4 L990.4 254.8 L991.7 250.2 L992.6 253.5 L993.5 257.5 L994.8 257.2 L995.9 254.8 L996.8 252.6 L997.9 256.1 L998.8 260.8 L1000.0 263.4 L1000.2 257.8 L1001.5 261.2 L1002.6 268.4 L1003.9 270.4 L1004.8 263.1 L1005.9 273.7 L1006.8 267.1 L1007.7 262.5 L1008.8 268.4 L1009.8 276.3 L1011.0 279.0 L1012.7 275.7 L1014.1 279.0 L1015.4 281.6 L1017.1 276.3 L1018.4 269.7 L1019.6 261.2 L1020.7 257.2 L1022.0 255.9 L1022.9 259.2 L1024.0 255.9 L1025.3 254.5 L1026.4 257.2 L1027.3 263.1 L1027.9 261.8 L1029.0 271.1 L1030.3 271.7 L1031.2 266.4 L1032.6 263.1 L1033.5 266.4 L1034.3 259.2 L1035.2 255.2 L1036.5 251.2 L1037.5 249.9 L1038.5 255.9 L1039.4 247.9 L1040.5 240.7 L1041.8 234.1 L1043.1 236.0 L1044.5 240.0 L1045.5 236.0 L1047.1 235.4 L1048.4 233.4 L1049.7 231.4 L1050.7 234.7 L1051.5 230.8 L1052.1 227.5 L1052.8 228.8 L1053.4 222.8 L1054.4 221.1 L1055.4 218.9 L1056.3 214.9 L1057.4 213.6 L1058.3 210.3 L1059.4 207.0 L1059.5 201.0 L1060.3 199.4 L1061.0 202.7 L1062.1 204.3 L1063.1 201.7 L1064.1 199.4 L1064.8 194.1 L1065.4 189.8 L1065.9 194.1 L1066.4 198.7 L1067.1 196.0 L1067.7 192.1 L1068.3 196.7 L1068.7 202.0 L1069.2 212.0 L1069.7 204.6 L1070.4 196.4 L1071.4 199.4 L1072.0 204.6 L1072.5 212.2 L1073.0 204.0 L1073.7 203.3 L1074.2 208.3 L1074.7 206.6 L1075.3 200.7 L1076.0 192.7 L1076.5 184.8 L1077.2 182.8 L1078.0 182.3 L1078.5 184.8 L1079.0 190.1 L1079.6 192.1 L1080.3 193.4 L1081.0 190.1 L1081.4 187.5 L1081.9 191.8 L1082.9 191.4 L1083.6 194.7 L1084.3 202.0 L1084.7 207.3 L1085.1 200.0 L1085.9 199.7 L1086.4 202.0 L1086.9 210.0 L1087.4 231.4 L1088.1 257.8 L1088.7 284.3 L1089.4 273.7 L1090.3 286.9 L1091.1 267.1 L1092.0 263.1 L1092.9 248.6 L1093.7 239.4 L1094.7 236.7 L1095.7 238.7 L1096.6 232.7 L1097.7 224.8 L1098.9 217.6 L1099.9 213.6 L1100.9 210.3 L1101.5 213.6 L1102.3 207.6 L1103.1 200.3 L1103.7 199.4 L1104.4 201.7 L1104.9 203.3 L1105.4 198.0 L1106.1 189.4 L1106.5 182.2 L1107.1 179.2 L1107.7 177.2 L1108.6 172.8 L1109.4 174.9" fill="none" stroke="#42b5ba" stroke-width="1.6" stroke-linejoin="round" stroke-linecap="butt" clip-path="url(#lc)"/>
<line x1="31.03" y1="102.75" x2="31.03" y2="595.2" stroke="#cbcbcf" stroke-width="1.7" stroke-dasharray="1.5 1.584"/>
<line x1="1110.5" y1="102.75" x2="1110.5" y2="595.2" stroke="#e2e2e5" stroke-width="1.3" stroke-dasharray="1.5 1.584"/>
<line x1="31.75" y1="595.6" x2="1109.6" y2="595.6" stroke="#cfcfd3" stroke-width="1.5" stroke-dasharray="1.5 1.6"/>
<text x="78.42" y="76.45" font-size="22.8" fill="#48b5bc" stroke="#48b5bc" stroke-width="0.85" textLength="64.29" lengthAdjust="spacingAndGlyphs">TODAY</text>
<text x="241.25" y="76.45" font-size="22.8" fill="#48b5bc" stroke="#48b5bc" stroke-width="0.85" textLength="75.35" lengthAdjust="spacingAndGlyphs">MONTH</text>
<text x="377.22" y="76.45" font-size="22.8" fill="#48b5bc" stroke="#48b5bc" stroke-width="0.85" textLength="11.94" lengthAdjust="spacingAndGlyphs">3</text>
<text x="394.74" y="76.45" font-size="22.8" fill="#48b5bc" stroke="#48b5bc" stroke-width="0.85" textLength="88.37" lengthAdjust="spacingAndGlyphs">MONTHS</text>
<text x="536.92" y="76.45" font-size="22.8" fill="#48b5bc" stroke="#48b5bc" stroke-width="0.85" textLength="11.90" lengthAdjust="spacingAndGlyphs">6</text>
<text x="554.74" y="76.45" font-size="22.8" fill="#48b5bc" stroke="#48b5bc" stroke-width="0.85" textLength="88.37" lengthAdjust="spacingAndGlyphs">MONTHS</text>
<text x="731.39" y="76.45" font-size="22.8" fill="#48b5bc" stroke="#48b5bc" stroke-width="0.85" textLength="53.16" lengthAdjust="spacingAndGlyphs">YEAR</text>
<text x="868.35" y="76.45" font-size="22.8" fill="#48b5bc" stroke="#48b5bc" stroke-width="0.85" textLength="11.77" lengthAdjust="spacingAndGlyphs">3</text>
<text x="884.91" y="76.45" font-size="22.8" fill="#48b5bc" stroke="#48b5bc" stroke-width="0.85" textLength="66.02" lengthAdjust="spacingAndGlyphs">YEARS</text>
<text x="1032.32" y="76.45" font-size="22.8" fill="#0a0a0a" stroke="#0a0a0a" stroke-width="0.85" textLength="11.64" lengthAdjust="spacingAndGlyphs">5</text>
<text x="1048.26" y="76.45" font-size="22.8" fill="#0a0a0a" stroke="#0a0a0a" stroke-width="0.85" textLength="65.65" lengthAdjust="spacingAndGlyphs">YEARS</text>
<text x="1117.67" y="192.9" font-size="20" fill="#999da5" stroke="#999da5" stroke-width="0.12" textLength="54.30" lengthAdjust="spacingAndGlyphs">39,573</text>
<text x="1117.76" y="274.8" font-size="20" fill="#999da5" stroke="#999da5" stroke-width="0.12" textLength="53.49" lengthAdjust="spacingAndGlyphs">34,089</text>
<text x="1117.89" y="357.0" font-size="20" fill="#999da5" stroke="#999da5" stroke-width="0.12" textLength="53.93" lengthAdjust="spacingAndGlyphs">28,605</text>
<text x="1118.10" y="438.7" font-size="20" fill="#999da5" stroke="#999da5" stroke-width="0.12" textLength="24.48" lengthAdjust="spacingAndGlyphs">23,</text>
<text x="1152.23" y="438.7" font-size="20" fill="#999da5" stroke="#999da5" stroke-width="0.12" textLength="19.55" lengthAdjust="spacingAndGlyphs">20</text>
<text x="1128.07" y="519.9" font-size="20" fill="#999da5" stroke="#999da5" stroke-width="0.12" textLength="44.03" lengthAdjust="spacingAndGlyphs">7,636</text>
<text x="1127.78" y="602.8" font-size="20" fill="#999da5" stroke="#999da5" stroke-width="0.12" textLength="14.80" lengthAdjust="spacingAndGlyphs">2,</text>
<text x="1152.40" y="602.8" font-size="20" fill="#999da5" stroke="#999da5" stroke-width="0.12" textLength="9.56" lengthAdjust="spacingAndGlyphs">5</text>
<text clip-path="url(#xc)" x="355.92" y="619.3" font-size="21.3" fill="#6a717a" stroke="#6a717a" stroke-width="0.25" textLength="59.12" lengthAdjust="spacingAndGlyphs">Jan &#39;22</text>
<text clip-path="url(#xc)" x="789.69" y="619.3" font-size="21.3" fill="#6a717a" stroke="#6a717a" stroke-width="0.25" textLength="58.85" lengthAdjust="spacingAndGlyphs">Jan &#39;24</text>
<path d="M229.60 59.9 L232.30 59.9 L232.30 76.5 L229.60 76.5 L229.60 63.3 L225.90 66.2 L225.90 63 Z" fill="#48b5bc"/>
<path d="M721.20 59.9 L723.90 59.9 L723.90 76.5 L721.20 76.5 L721.20 63.3 L717.30 66.2 L717.30 63 Z" fill="#48b5bc"/>
<path d="M1147.25 424.80 L1149.00 424.80 L1149.00 438.70 L1147.25 438.70 L1147.25 427.00 L1144.10 429.40 L1144.10 427.40 Z" fill="#999da5"/>
<path d="M1122.95 506.00 L1124.70 506.00 L1124.70 519.90 L1122.95 519.90 L1122.95 508.20 L1119.80 510.60 L1119.80 508.60 Z" fill="#999da5"/>
<path d="M1122.95 588.90 L1124.70 588.90 L1124.70 602.80 L1122.95 602.80 L1122.95 591.10 L1119.80 593.50 L1119.80 591.50 Z" fill="#999da5"/>
<path d="M1147.25 588.90 L1149.00 588.90 L1149.00 602.80 L1147.25 602.80 L1147.25 591.10 L1144.10 593.50 L1144.10 591.50 Z" fill="#999da5"/>
<path d="M1167.15 588.90 L1168.90 588.90 L1168.90 602.80 L1167.15 602.80 L1167.15 591.10 L1163.70 593.50 L1163.70 591.50 Z" fill="#999da5"/>

</svg>
</body></html>
